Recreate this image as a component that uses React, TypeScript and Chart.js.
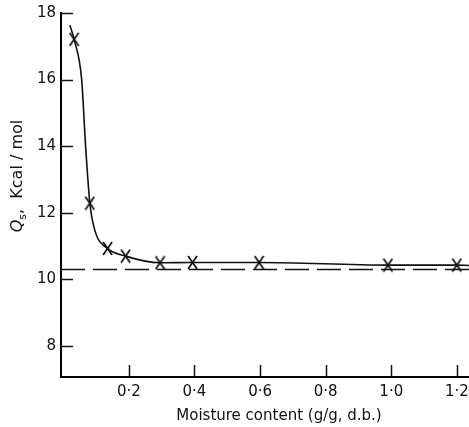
import { useEffect, useRef } from 'react';
import { Chart, registerables } from 'chart.js';

Chart.register(...registerables);

// Measured points (X markers)
const markerX = [0.033, 0.081, 0.135, 0.19, 0.295, 0.394, 0.597, 0.99, 1.2];
const markerY = [17.21, 12.29, 10.93, 10.7, 10.5, 10.51, 10.51, 10.43, 10.43];
// Hand-drawn smooth curve through the points
const curveX = [0.02, 0.033, 0.056, 0.068, 0.081, 0.096, 0.135, 0.19, 0.295, 0.394, 0.597, 0.99, 1.2, 1.237];
const curveY = [17.64, 17.21, 16.0, 14.0, 12.29, 11.48, 10.93, 10.7, 10.5, 10.51, 10.51, 10.43, 10.43, 10.42];
// Dashed asymptote
const asymptoteY = 10.3;
// Axes
const xTickValues = [0.2, 0.4, 0.6, 0.8, 1.0, 1.2];
const yTickValues = [8, 10, 12, 14, 16, 18];
const xRange = [-0.007, 1.237];
const yRange = [7.07, 18];
const xTitle = 'Moisture content (g/g, d.b.)';
const yTitleMain = 'Q';
const yTitleSub = 's';
const yTitleRest = ',  Kcal / mol';

const FONT = '"DejaVu Sans", sans-serif';
const INK = '#111';

function makeCross(): HTMLCanvasElement {
  const c = document.createElement('canvas');
  c.width = 11;
  c.height = 15;
  const g = c.getContext('2d')!;
  g.strokeStyle = '#000';
  g.lineWidth = 1.6;
  g.beginPath();
  g.moveTo(1, 1);
  g.lineTo(10, 14);
  g.moveTo(10, 1);
  g.lineTo(1, 14);
  g.stroke();
  return c;
}

const decor = {
  id: 'decor',
  beforeDatasetsDraw(chart: any) {
    const { ctx, chartArea: a, scales } = chart;
    const x = scales.x;
    const y = scales.y;
    ctx.save();
    // asymptote
    ctx.strokeStyle = INK;
    ctx.lineWidth = 1.5;
    ctx.setLineDash([24, 8]);
    const py = y.getPixelForValue(asymptoteY);
    ctx.beginPath();
    ctx.moveTo(a.left, py);
    ctx.lineTo(a.right, py);
    ctx.stroke();
    ctx.setLineDash([]);
    // inward tick marks
    ctx.lineWidth = 1.5;
    ctx.beginPath();
    for (const v of yTickValues) {
      const p = Math.round(y.getPixelForValue(v)) + 0.5;
      ctx.moveTo(a.left, p);
      ctx.lineTo(a.left + 12, p);
    }
    for (const v of xTickValues) {
      const p = Math.round(x.getPixelForValue(v)) + 0.5;
      ctx.moveTo(p, a.bottom);
      ctx.lineTo(p, a.bottom - 12);
    }
    ctx.stroke();

    // x title
    ctx.fillStyle = INK;
    ctx.font = `15px ${FONT}`;
    ctx.textAlign = 'center';
    ctx.textBaseline = 'middle';
    ctx.fillText(xTitle, 279, 416);

    // y title (rotated, italic Q with subscript s)
    ctx.translate(18, 176);
    ctx.rotate(-Math.PI / 2);
    ctx.textAlign = 'left';
    const fQ = `italic 16px ${FONT}`;
    const fS = `11px ${FONT}`;
    const fR = `16px ${FONT}`;
    ctx.font = fQ;
    const wQ = ctx.measureText(yTitleMain).width;
    ctx.font = fS;
    const wS = ctx.measureText(yTitleSub).width;
    ctx.font = fR;
    const wR = ctx.measureText(yTitleRest).width;
    let cx = -(wQ + wS + wR) / 2;
    ctx.font = fQ;
    ctx.fillText(yTitleMain, cx, 0);
    cx += wQ;
    ctx.font = fS;
    ctx.fillText(yTitleSub, cx, 5);
    cx += wS;
    ctx.font = fR;
    ctx.fillText(yTitleRest, cx, 0);
    ctx.restore();
  },
};

export default function App() {
  const ref = useRef<HTMLCanvasElement>(null);

  useEffect(() => {
    if (!ref.current) return;
    const cross = makeCross();
    const chart = new Chart(ref.current, {
      type: 'line',
      data: {
        datasets: [
          {
            label: 'curve',
            data: curveX.map((v, i) => ({ x: v, y: curveY[i] })),
            borderColor: INK,
            borderWidth: 1.6,
            pointRadius: 0,
            cubicInterpolationMode: 'monotone',
            fill: false,
          },
          {
            label: 'points',
            data: markerX.map((v, i) => ({ x: v, y: markerY[i] })),
            showLine: false,
            pointStyle: cross as any,
            pointRadius: 6,
            borderColor: INK,
            backgroundColor: INK,
          },
        ],
      },
      options: {
        responsive: false,
        animation: false,
        devicePixelRatio: 1,
        layout: { autoPadding: false, padding: { top: 13, left: 0, right: 0, bottom: 0 } },
        plugins: {
          legend: { display: false },
          tooltip: { enabled: false },
        },
        scales: {
          x: {
            type: 'linear',
            min: xRange[0],
            max: xRange[1],
            grid: { display: false, drawTicks: false },
            border: { display: true, color: '#000', width: 2 },
            ticks: {
              font: { family: FONT, size: 15 },
              color: INK,
              padding: 6,
              maxRotation: 0,
              autoSkip: false,
              callback: (v: any) => Number(v).toFixed(1).replace('.', '·'),
            },
            afterBuildTicks: (s: any) => {
              s.ticks = xTickValues.map((v) => ({ value: v }));
            },
            afterFit: (s: any) => {
              s.height = 50;
              s.paddingLeft = 0;
              s.paddingRight = 0;
            },
          },
          y: {
            type: 'linear',
            min: yRange[0],
            max: yRange[1],
            grid: { display: false, drawTicks: false },
            border: { display: true, color: '#000', width: 2 },
            ticks: {
              font: { family: FONT, size: 15 },
              color: INK,
              padding: 5,
              autoSkip: false,
              callback: (v: any) => String(v),
            },
            afterBuildTicks: (s: any) => {
              s.ticks = yTickValues.map((v) => ({ value: v }));
            },
            afterFit: (s: any) => {
              s.width = 61;
              s.paddingTop = 0;
              s.paddingBottom = 0;
            },
          },
        },
      },
      plugins: [decor],
    });
    return () => chart.destroy();
  }, []);

  return (
    <div style={{ position: 'absolute', left: 0, top: 0, width: 469, height: 427, background: '#fff' }}>
      <canvas ref={ref} width={469} height={427} />
    </div>
  );
}
